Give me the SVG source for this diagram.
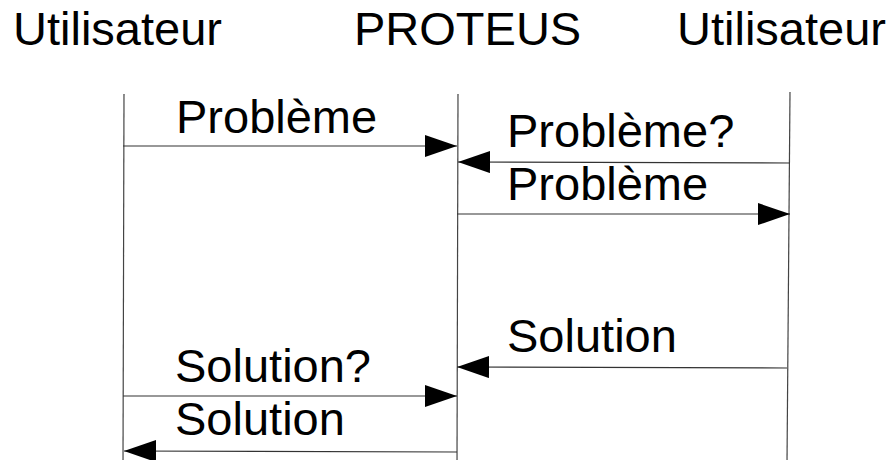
<svg xmlns="http://www.w3.org/2000/svg" width="890" height="460" viewBox="0 0 890 460">
<style>
text{font-family:"Liberation Sans",Arial,sans-serif;font-size:47px;fill:#000}
.life{stroke:#444;stroke-width:1.2;fill:none}
.msg{stroke:#333;stroke-width:1.2;fill:none;marker-end:url(#ah)}
</style>
<defs>
<marker id="ah" markerUnits="userSpaceOnUse" markerWidth="32" markerHeight="22" refX="32" refY="11" orient="auto" viewBox="0 0 32 22">
<path d="M0,0 L32,11 L0,22 z" fill="#000"/>
</marker>
</defs>
<rect width="890" height="460" fill="#fff"/>
<g id="user1">
<text x="13" y="45">Utilisateur</text>
<line class="life" x1="124" y1="94" x2="123" y2="462"/>
</g>
<g id="proteus">
<text x="354" y="45">PROTEUS</text>
<line class="life" x1="458" y1="94" x2="457" y2="462"/>
</g>
<g id="user2">
<text x="677" y="45">Utilisateur</text>
<line class="life" x1="790" y1="92" x2="787" y2="462"/>
</g>
<g id="connectors">
<line class="msg" x1="123" y1="146" x2="457" y2="146"/>
<text x="176" y="133">Problème</text>
<line class="msg" x1="790" y1="163" x2="458" y2="162"/>
<text x="507" y="147">Problème?</text>
<line class="msg" x1="457" y1="214" x2="790" y2="214"/>
<text x="507" y="200">Problème</text>
<line class="msg" x1="787" y1="368" x2="457" y2="367"/>
<text x="507" y="352">Solution</text>
<line class="msg" x1="123" y1="396" x2="457" y2="396"/>
<text x="175" y="382">Solution?</text>
<line class="msg" x1="457" y1="452" x2="124" y2="451"/>
<text x="175" y="435">Solution</text>
</g>
</svg>
